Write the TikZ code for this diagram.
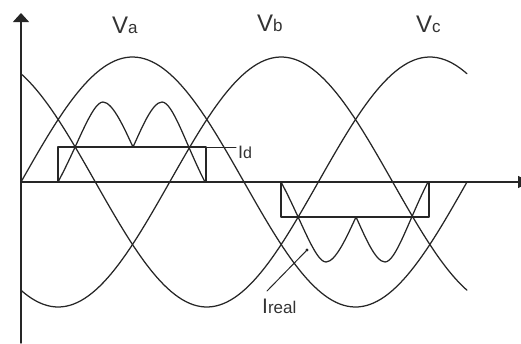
\documentclass[tikz,border=0pt]{standalone}
\usepackage{fontspec}
\setmainfont{Liberation Sans}
\usetikzlibrary{arrows.meta}
\begin{document}
\begin{tikzpicture}[x=1pt,y=-1pt,line join=round,line cap=round,
  wave/.style={draw=black!85,line width=1.25pt},
  axisline/.style={draw=black!85,line width=1.4pt},
  leader/.style={draw=black!85,line width=1pt},
  lbl/.style={inner sep=0pt,anchor=base west,text=black!80}]
\useasboundingbox (0,0) rectangle (521,343);
% axes
\draw[axisline,-{Triangle[length=9pt,width=16pt]}] (21,343) -- (21,13);
\draw[axisline,-{Triangle[length=12pt,width=12pt]}] (21,182) -- (530,182);
% three phase voltages
\foreach \ph in {0,120,240}
  \draw[wave] plot[domain=0:360,samples=120] ({21+\x*1.238889},{182-125*sin(\x-\ph)});
% positive current block and ripple
\draw[wave] (58,182) -- (58,147) -- (206,147) -- (206,182);
\draw[wave] (58,182) .. controls (78,145) and (92,102) .. (103,102)
  .. controls (113,102) and (125,130) .. (133,147)
  .. controls (141,130) and (152,102) .. (162,102)
  .. controls (173,102) and (186,145) .. (205,182);
% negative current block and ripple (mirrored, half period later)
\begin{scope}[shift={(223,364)},yscale=-1]
\draw[wave] (58,182) -- (58,147) -- (206,147) -- (206,182);
\draw[wave] (58,182) .. controls (78,145) and (92,102) .. (103,102)
  .. controls (113,102) and (125,130) .. (133,147)
  .. controls (141,130) and (152,102) .. (162,102)
  .. controls (173,102) and (186,145) .. (205,182);
\end{scope}
% labels
\node[lbl] (va) at (112,33) {\fontsize{24}{24}\selectfont V\fontsize{17}{17}\selectfont a};
\node[lbl] (vb) at (257,31) {\fontsize{24}{24}\selectfont V\fontsize{17}{17}\selectfont b};
\node[lbl] (vc) at (416,32) {\fontsize{24}{24}\selectfont V\fontsize{17}{17}\selectfont c};
\node[lbl] (id) at (238,158) {\fontsize{18}{18}\selectfont I\fontsize{16}{16}\selectfont d};
\node[lbl] (ir) at (262,313) {\fontsize{21}{21}\selectfont I\fontsize{17}{17}\selectfont real};
% leaders
\coordinate (rc) at (206,147);
\draw[leader,shorten >=2pt] (rc) -- (rc -| id.west);
\coordinate (irs) at (267,291);
\coordinate (ire) at (307,250);
\draw[leader] (irs) -- (ire);
\fill[black!85] (ire) circle (1.7);
\end{tikzpicture}
\end{document}
